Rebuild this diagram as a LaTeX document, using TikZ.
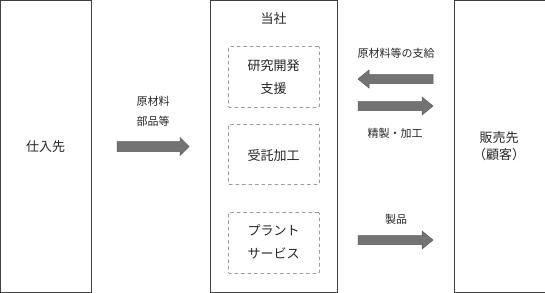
\documentclass[tikz,border=0pt]{standalone}
\usepackage{fontspec}
\setmainfont{Noto Sans CJK JP}
\begin{document}
\begin{tikzpicture}[x=1pt,y=-1pt,
  bigbox/.style={draw=black!75, line width=0.8pt, inner sep=0pt, anchor=north west},
  dbox/.style={draw=black!60, dashed, dash pattern=on 3.5pt off 3pt, line width=0.7pt, rounded corners=1pt, inner sep=0pt, anchor=north west, minimum width=91pt, minimum height=61pt},
  lbl/.style={font=\fontsize{13}{17}\selectfont, align=center, text=black!85},
  slbl/.style={font=\fontsize{11}{20}\selectfont, align=center, text=black!85},
  blockarr/.style={fill=black!55, draw=black!65, line width=0.5pt}]
\useasboundingbox (0,0) rectangle (545,292);
\fill[white] (0,0) rectangle (545,292);
% big boxes
\node[bigbox, minimum width=91pt, minimum height=291.5pt] (sup) at (0.4,0.4) {};
\node[bigbox, minimum width=127pt, minimum height=291.5pt] (co) at (210,0.4) {};
\node[bigbox, minimum width=90.5pt, minimum height=291.5pt] (cust) at (454,0.4) {};
% dashed boxes
\node[dbox] (rd) at (228,46) {};
\node[dbox, minimum height=60pt] (tk) at (228,124) {};
\node[dbox] (pl) at (228,212) {};
% texts
\node[lbl] (supT) at (45.5,147) {仕入先};
\node[lbl] (coT) at (273.5,19) {当社};
\node[lbl] (rdT) at (273.5,77) {研究開発\\[6pt]支援};
\node[lbl] (tkT) at (273.5,156) {受託加工};
\node[lbl] (plT) at (273.5,242) {プラント\\[6pt]サービス};
\node[lbl] (custT) at (499,146.5) {販売先\\（顧客）};
\node[slbl] (matT) at (153,111) {原材料\\部品等};
\node[slbl] (supplyT) at (396,53) {原材料等の支給};
\node[slbl] (procT) at (395,133) {精製・加工};
\node[slbl] (prodT) at (396,219) {製品};
% block arrows
\coordinate (a1) at (117,146.5);
\fill[blockarr] (a1) ++(0,-5) -- ++(63,0) -- ++(0,-4) -- ++(9,9) -- ++(-9,9) -- ++(0,-4) -- ++(-63,0) -- cycle;
\coordinate (a2) at (433,79);
\fill[blockarr] (a2) ++(0,-4.5) -- ++(-64,0) -- ++(0,-4.5) -- ++(-11,9) -- ++(11,9) -- ++(0,-4.5) -- ++(64,0) -- cycle;
\coordinate (a3) at (358,106);
\fill[blockarr] (a3) ++(0,-4.5) -- ++(64,0) -- ++(0,-4.5) -- ++(11,9) -- ++(-11,9) -- ++(0,-4.5) -- ++(-64,0) -- cycle;
\coordinate (a4) at (358,240);
\fill[blockarr] (a4) ++(0,-4.5) -- ++(64,0) -- ++(0,-4.5) -- ++(11,9) -- ++(-11,9) -- ++(0,-4.5) -- ++(-64,0) -- cycle;
\end{tikzpicture}
\end{document}
